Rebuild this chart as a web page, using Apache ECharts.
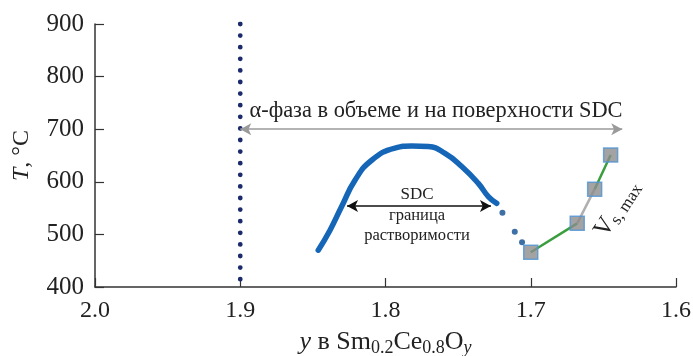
<!DOCTYPE html>
<html><head><meta charset="utf-8">
<script src="https://cdn.jsdelivr.net/npm/echarts@6/dist/echarts.min.js"></script>
<style>html,body{margin:0;padding:0;background:#fff}#c{width:693px;height:356px}</style>
</head><body><div id="c"></div>
<script>
// ---- data ----
const xTicks = [2.0, 1.9, 1.8, 1.7, 1.6];
const yTicks = [400, 500, 600, 700, 800, 900];
// vertical dotted boundary at y = 1.9
const boundaryX = [1.9, 1.9];
const boundaryT = [900, 400];
// solubility dome (solid)
const domeX = [1.8463, 1.8382, 1.8302, 1.8210, 1.8095, 1.7935, 1.7820, 1.7705, 1.7590, 1.7475, 1.7361, 1.7292, 1.7234];
const domeT = [470, 508, 553, 603, 641, 664, 668, 667, 654, 629, 597, 572, 559];
// dome continuation (dots)
const dotsX = [1.7195, 1.711, 1.706];
const dotsT = [541, 505, 485];
// V s,max points
const vsX = [1.700, 1.668, 1.656, 1.645];
const vsT = [466, 521, 586, 651];
// annotation arrows
const alphaArrowX = [1.9, 1.637]; const alphaArrowT = 700;
const sdcArrowX = [1.8265, 1.7274]; const sdcArrowT = 554;

const serif = '"Liberation Serif","Times New Roman",serif';
const pair = (xs, ys) => xs.map((x, i) => [x, ys[i]]);

const chart = echarts.init(document.getElementById('c'));
const segColors = ['#3a9e3f', '#b0b0b0', '#3a9e3f'];
const segSeries = segColors.map((c, i) => ({
  type: 'line', data: pair(vsX.slice(i, i + 2), vsT.slice(i, i + 2)),
  symbol: 'none', lineStyle: {color: c, width: 2.5}, z: 3, silent: true
}));

chart.setOption({
  animation: false,
  grid: {left: 95, right: 17, top: 24, bottom: 69, containLabel: false, outerBoundsMode: 'none'},
  xAxis: {
    type: 'value', min: 1.6, max: 2.0, interval: 0.1, inverse: true,
    axisLine: {lineStyle: {color: '#333', width: 1.5}},
    axisTick: {inside: true, length: 9, lineStyle: {color: '#333', width: 1.2}},
    splitLine: {show: false},
    axisLabel: {color: '#222', fontFamily: serif, fontSize: 24, margin: 12, formatter: v => v.toFixed(1)},
    name: '{i|y} в Sm{s|0.2}Ce{s|0.8}O{si|y}', nameLocation: 'middle', nameGap: 40,
    nameTextStyle: {color: '#222', fontFamily: serif, fontSize: 26,
      rich: {
        i: {fontFamily: serif, fontSize: 26, fontStyle: 'italic', color: '#222'},
        s: {fontFamily: serif, fontSize: 18, color: '#222', verticalAlign: 'bottom', padding: [12, 0, 0, 0]},
        si: {fontFamily: serif, fontSize: 18, fontStyle: 'italic', color: '#222', verticalAlign: 'bottom', padding: [12, 0, 0, 0]}
      }}
  },
  yAxis: {
    type: 'value', min: 400, max: 900, interval: 100,
    axisLine: {show: true, lineStyle: {color: '#333', width: 1.5}},
    axisTick: {show: true, inside: true, length: 9, lineStyle: {color: '#333', width: 1.2}},
    splitLine: {show: false},
    axisLabel: {color: '#222', fontFamily: serif, fontSize: 25, margin: 11},
    name: '{i|T}, °C', nameLocation: 'middle', nameGap: 61, nameRotate: 90,
    nameTextStyle: {color: '#222', fontFamily: serif, fontSize: 24,
      rich: {i: {fontFamily: serif, fontSize: 24, fontStyle: 'italic', color: '#222'}}}
  },
  series: [
    {type: 'line', data: pair(boundaryX, boundaryT), symbol: 'none', silent: true,
     lineStyle: {color: '#1b2a6b', width: 4.8, type: [0, 11.6], cap: 'round'}, z: 2},
    {type: 'line', data: pair(domeX, domeT), symbol: 'none', smooth: 0.5, silent: true,
     lineStyle: {color: '#1666b8', width: 5.5, cap: 'round', join: 'round'}, z: 2,
     markLine: {silent: true, symbol: ['arrow', 'arrow'], symbolSize: [9, 11], label: {show: false},
       data: [
         [{coord: [alphaArrowX[0], alphaArrowT], lineStyle: {color: '#9a9a9a', width: 1.6, type: 'solid'}},
          {coord: [alphaArrowX[1], alphaArrowT]}],
         [{coord: [sdcArrowX[0], sdcArrowT], lineStyle: {color: '#111', width: 1.5, type: 'solid'}},
          {coord: [sdcArrowX[1], sdcArrowT]}]
       ]}},
    {type: 'scatter', data: pair(dotsX, dotsT), symbol: 'circle', symbolSize: 6, silent: true,
     itemStyle: {color: '#0e4c8e'}, z: 2},
    ...segSeries,
    {type: 'scatter', data: pair(vsX, vsT), symbol: 'rect', symbolSize: 14, silent: true,
     itemStyle: {color: '#8c8c8c', borderColor: '#4f93d4', borderWidth: 1.5}, z: 4}
  ],
  graphic: [
    {type: 'text', x: 436, y: 111, style: {text: 'α-фаза в объеме и на поверхности SDC',
      font: '22.4px ' + serif, fill: '#222', align: 'center', verticalAlign: 'middle'}},
    {type: 'text', x: 417, y: 195, style: {text: 'SDC', font: '17px ' + serif, fill: '#222', align: 'center', verticalAlign: 'middle'}},
    {type: 'text', x: 417, y: 216, style: {text: 'граница', font: '16.5px ' + serif, fill: '#222', align: 'center', verticalAlign: 'middle'}},
    {type: 'text', x: 417, y: 236, style: {text: 'растворимости', font: '16.5px ' + serif, fill: '#222', align: 'center', verticalAlign: 'middle'}},
    {type: 'text', x: 600, y: 235, rotation: 57 * Math.PI / 180,
      style: {text: '{v|V}{s|s, max}', fill: '#222', verticalAlign: 'middle',
        rich: {v: {font: '25px ' + serif, fill: '#222'},
               s: {font: '17px ' + serif, fill: '#222', verticalAlign: 'bottom', padding: [12, 0, 0, 0]}}}}
  ]
});
</script></body></html>
